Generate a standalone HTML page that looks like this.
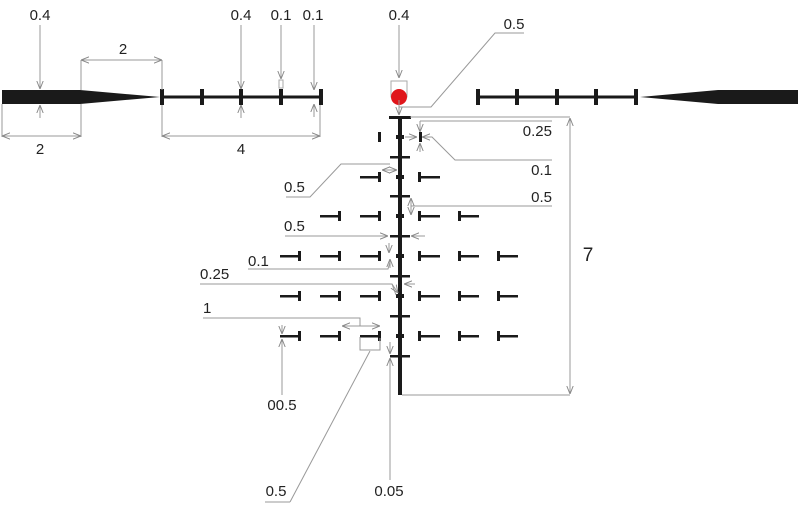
<!DOCTYPE html>
<html><head><meta charset="utf-8"><style>
html,body{margin:0;padding:0;background:#fff;}
svg{display:block;}
text{font-family:"Liberation Sans",sans-serif;font-size:15px;fill:#222;}
</style></head><body>
<svg width="800" height="510" viewBox="0 0 800 510" xmlns="http://www.w3.org/2000/svg">
<defs>
<marker id="a" viewBox="0 0 10 10" refX="10" refY="5" markerWidth="8" markerHeight="8" orient="auto-start-reverse" markerUnits="userSpaceOnUse">
<path d="M0,1 L10,5 L0,9" fill="none" stroke="#888" stroke-width="1.2"/></marker>
</defs>
<g fill="#1a1a1a">
<polygon points="2,90 80,90 160,97 80,104 2,104"/>
<polygon points="798,90 718,90 640,97 718,104 798,104"/>
<rect x="162" y="95.5" width="160" height="3"/>
<rect x="160" y="89" width="4" height="16"/><rect x="200" y="89" width="4" height="16"/><rect x="239" y="89" width="4" height="16"/><rect x="279" y="89" width="4" height="16"/><rect x="319" y="89" width="4" height="16"/>
<rect x="478" y="95.5" width="160" height="3"/>
<rect x="476" y="89" width="4" height="16"/><rect x="515" y="89" width="4" height="16"/><rect x="555" y="89" width="4" height="16"/><rect x="594" y="89" width="4" height="16"/><rect x="634" y="89" width="4" height="16"/>
<rect x="398" y="117" width="4" height="278"/>
<rect x="389" y="116" width="22" height="3"/>
<rect x="390" y="156" width="20" height="2.5"/><rect x="390" y="195" width="20" height="2.5"/><rect x="390" y="235" width="20" height="2.5"/><rect x="390" y="275" width="20" height="2.5"/><rect x="390" y="315" width="20" height="2.5"/><rect x="390" y="355" width="20" height="2.5"/>
<rect x="396" y="135" width="8" height="4"/><rect x="396" y="175" width="8" height="4"/><rect x="396" y="214" width="8" height="4"/><rect x="396" y="254" width="8" height="4"/><rect x="396" y="294" width="8" height="4"/><rect x="396" y="334" width="8" height="4"/>
<rect x="378" y="132" width="3" height="10"/><rect x="419" y="132" width="3" height="10"/>
</g>
<g fill="#1a1a1a">
<rect x="360" y="176" width="20" height="2.5"/><rect x="378" y="172" width="3" height="10"/>
<rect x="419" y="176" width="21" height="2.5"/><rect x="418" y="172" width="3" height="10"/>
<rect x="320" y="215" width="20" height="2.5"/><rect x="338" y="211" width="3" height="10"/>
<rect x="360" y="215" width="20" height="2.5"/><rect x="378" y="211" width="3" height="10"/>
<rect x="419" y="215" width="21" height="2.5"/><rect x="418" y="211" width="3" height="10"/>
<rect x="459" y="215" width="20" height="2.5"/><rect x="458" y="211" width="3" height="10"/>
<rect x="280" y="255" width="20" height="2.5"/><rect x="298" y="251" width="3" height="10"/>
<rect x="320" y="255" width="20" height="2.5"/><rect x="338" y="251" width="3" height="10"/>
<rect x="360" y="255" width="20" height="2.5"/><rect x="378" y="251" width="3" height="10"/>
<rect x="419" y="255" width="21" height="2.5"/><rect x="418" y="251" width="3" height="10"/>
<rect x="459" y="255" width="20" height="2.5"/><rect x="458" y="251" width="3" height="10"/>
<rect x="498" y="255" width="20" height="2.5"/><rect x="497" y="251" width="3" height="10"/>
<rect x="280" y="295" width="20" height="2.5"/><rect x="298" y="291" width="3" height="10"/>
<rect x="320" y="295" width="20" height="2.5"/><rect x="338" y="291" width="3" height="10"/>
<rect x="360" y="295" width="20" height="2.5"/><rect x="378" y="291" width="3" height="10"/>
<rect x="419" y="295" width="21" height="2.5"/><rect x="418" y="291" width="3" height="10"/>
<rect x="459" y="295" width="20" height="2.5"/><rect x="458" y="291" width="3" height="10"/>
<rect x="498" y="295" width="20" height="2.5"/><rect x="497" y="291" width="3" height="10"/>
<rect x="280" y="335" width="20" height="2.5"/><rect x="298" y="331" width="3" height="10"/>
<rect x="320" y="335" width="20" height="2.5"/><rect x="338" y="331" width="3" height="10"/>
<rect x="360" y="335" width="20" height="2.5"/><rect x="378" y="331" width="3" height="10"/>
<rect x="419" y="335" width="21" height="2.5"/><rect x="418" y="331" width="3" height="10"/>
<rect x="459" y="335" width="20" height="2.5"/><rect x="458" y="331" width="3" height="10"/>
<rect x="498" y="335" width="20" height="2.5"/><rect x="497" y="331" width="3" height="10"/>
</g>
<rect x="391" y="81" width="16" height="16" fill="none" stroke="#aaa" stroke-width="1"/>
<circle cx="399" cy="97" r="8" fill="#e0161b"/>
<g stroke="#999" stroke-width="1" fill="none">
<line x1="40" y1="25" x2="40" y2="89" marker-end="url(#a)"/>
<line x1="40" y1="118" x2="40" y2="105" marker-end="url(#a)"/>
<line x1="81" y1="60" x2="81" y2="90"/><line x1="162" y1="60" x2="162" y2="90"/>
<line x1="81" y1="60" x2="162" y2="60" marker-start="url(#a)" marker-end="url(#a)"/>
<line x1="2" y1="104" x2="2" y2="137"/><line x1="81" y1="104" x2="81" y2="137"/>
<line x1="2" y1="136" x2="81" y2="136" marker-start="url(#a)" marker-end="url(#a)"/>
<line x1="162" y1="105" x2="162" y2="137"/><line x1="320" y1="105" x2="320" y2="137"/>
<line x1="162" y1="136" x2="320" y2="136" marker-start="url(#a)" marker-end="url(#a)"/>
<line x1="241" y1="25" x2="241" y2="89" marker-end="url(#a)"/>
<line x1="241" y1="118" x2="241" y2="105" marker-end="url(#a)"/>
<line x1="281" y1="25" x2="281" y2="79" marker-end="url(#a)"/>
<rect x="279" y="80" width="4" height="8" stroke="#aaa"/>
<line x1="314" y1="25" x2="314" y2="90" marker-end="url(#a)"/>
<line x1="314" y1="117" x2="314" y2="104" marker-end="url(#a)"/>
<line x1="399" y1="25" x2="399" y2="78" marker-end="url(#a)"/>
<line x1="399" y1="110" x2="399" y2="100"/>
<polyline points="524,33 495,33 431,107 399,107"/>
<line x1="399" y1="107" x2="399" y2="115" marker-end="url(#a)"/>
<line x1="410" y1="117" x2="570" y2="117"/>
<line x1="402" y1="395" x2="570" y2="395"/>
<line x1="570" y1="118" x2="570" y2="394" marker-start="url(#a)" marker-end="url(#a)"/>
<polyline points="552,121 420,121"/>
<line x1="420" y1="121" x2="420" y2="132" marker-end="url(#a)"/>
<line x1="420" y1="152" x2="420" y2="143" marker-end="url(#a)"/>
<polyline points="552,160 455,160 432,137 422,137" />
<line x1="432" y1="137" x2="422" y2="137" marker-end="url(#a)"/>
<line x1="405" y1="137" x2="417" y2="137" marker-end="url(#a)"/>
<line x1="411" y1="206" x2="552" y2="206"/>
<line x1="411" y1="198" x2="411" y2="215" marker-start="url(#a)" marker-end="url(#a)"/>
<polyline points="286,197 310,197 341,164 390,164"/>
<line x1="382" y1="170" x2="397" y2="170" marker-start="url(#a)" marker-end="url(#a)"/>
<line x1="285" y1="236" x2="388" y2="236" marker-end="url(#a)"/>
<line x1="425" y1="236" x2="411" y2="236" marker-end="url(#a)"/>
<polyline points="248,269 388,269 390,262"/>
<line x1="389" y1="243" x2="389" y2="253" marker-end="url(#a)"/>
<line x1="390" y1="268" x2="390" y2="259" marker-end="url(#a)"/>
<polyline points="200,284 392,284 396,295"/>
<line x1="392" y1="284" x2="398" y2="293" marker-end="url(#a)"/>
<line x1="415" y1="284" x2="404" y2="284" marker-end="url(#a)"/>
<polyline points="203,318 360,318 360,326"/>
<line x1="342" y1="326" x2="380" y2="326" marker-start="url(#a)" marker-end="url(#a)"/>
<polyline points="360,337 360,350 380,350 380,338"/>
<polyline points="290,502 265,502"/>
<line x1="290" y1="502" x2="370" y2="351"/>
<line x1="282" y1="395" x2="282" y2="339" marker-end="url(#a)"/>
<line x1="282" y1="325" x2="282" y2="334" marker-end="url(#a)"/>
<line x1="390" y1="480" x2="390" y2="358" marker-end="url(#a)"/>
<line x1="390" y1="342" x2="390" y2="354" marker-end="url(#a)"/>
</g>
<g>
<text x="40" y="20" text-anchor="middle">0.4</text>
<text x="123" y="54" text-anchor="middle">2</text>
<text x="40" y="154" text-anchor="middle">2</text>
<text x="241" y="154" text-anchor="middle">4</text>
<text x="241" y="20" text-anchor="middle">0.4</text>
<text x="281" y="20" text-anchor="middle">0.1</text>
<text x="313" y="20" text-anchor="middle">0.1</text>
<text x="399" y="20" text-anchor="middle">0.4</text>
<text x="514" y="29" text-anchor="middle">0.5</text>
<text x="552" y="136" text-anchor="end">0.25</text>
<text x="552" y="175" text-anchor="end">0.1</text>
<text x="552" y="202" text-anchor="end">0.5</text>
<text x="588" y="261" text-anchor="middle" style="font-size:19px">7</text>
<text x="284" y="192">0.5</text>
<text x="284" y="231">0.5</text>
<text x="248" y="266">0.1</text>
<text x="200" y="279">0.25</text>
<text x="203" y="313">1</text>
<text x="282" y="410" text-anchor="middle">00.5</text>
<text x="276" y="496" text-anchor="middle">0.5</text>
<text x="389" y="496" text-anchor="middle">0.05</text>
</g>
</svg>
</body></html>
